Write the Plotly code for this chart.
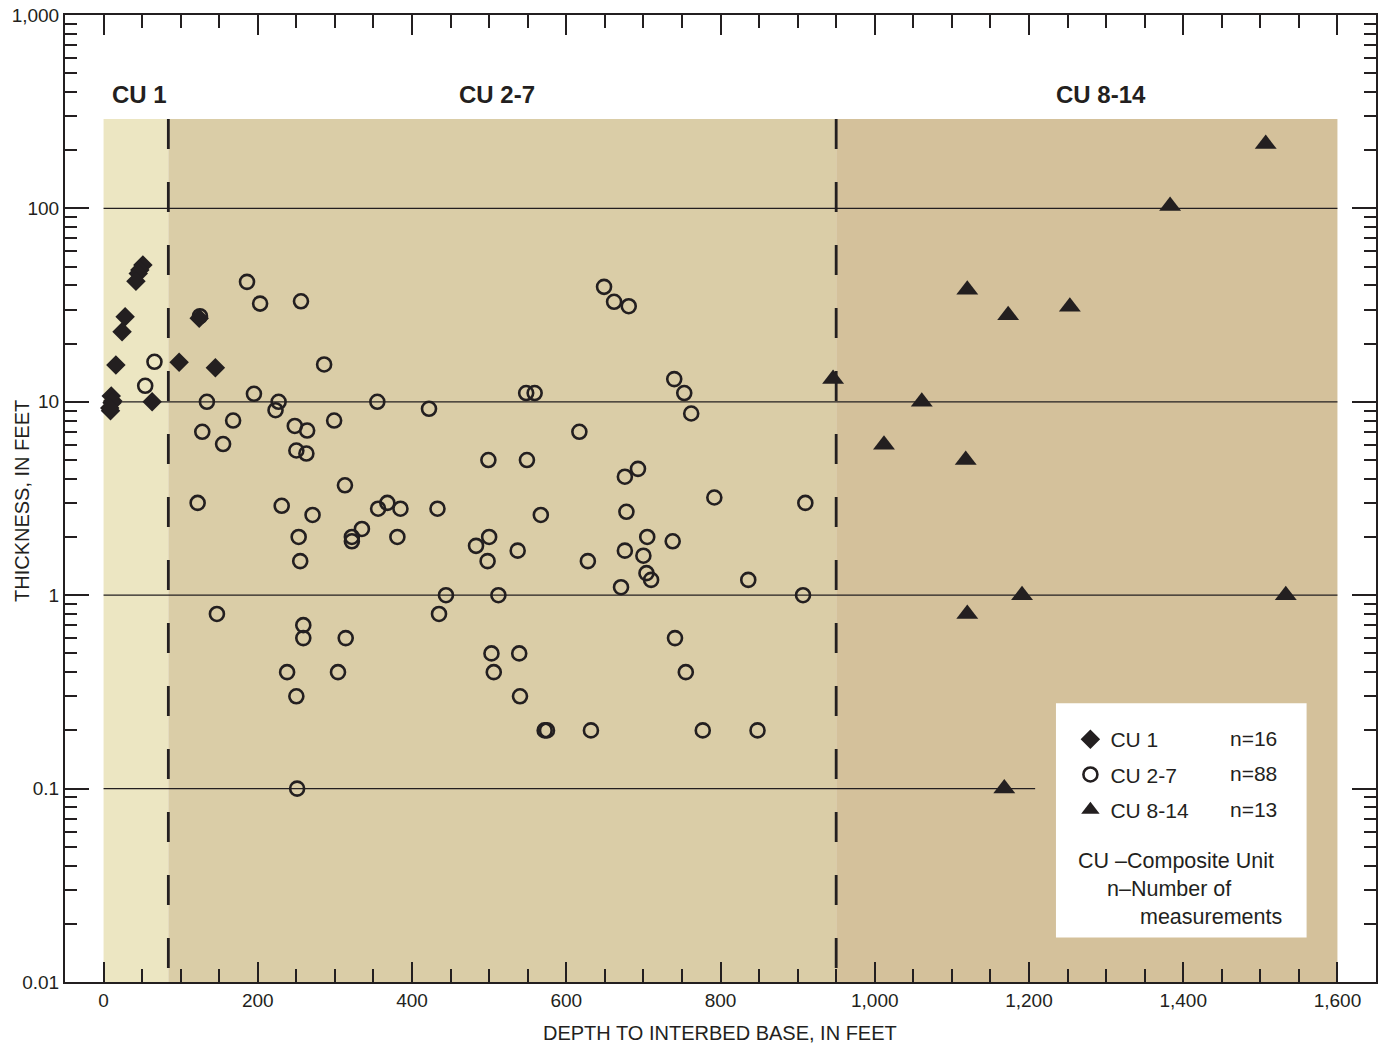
import plotly.graph_objects as go

# ---------------- data ----------------
cu1_depth = [51, 47, 45, 42, 28, 24, 16, 98, 145, 124, 63, 10, 12, 11, 9, 8]
cu1_thick = [51, 48, 46, 42, 27.5, 23, 15.5, 16, 15, 27, 10, 10.7, 10.1, 9.9, 9.0, 9.3]

cu27_depth = [66, 54, 125, 186, 203, 256, 286, 134, 195, 227,
              223, 355, 422, 168, 128, 155, 248, 264, 299, 250,
              263, 499, 313, 122, 231, 271, 253, 322, 322, 335,
              356, 368, 385, 433, 381, 255, 483, 500, 498, 444,
              512, 147, 435, 259, 259, 314, 503, 506, 238, 304,
              250, 251, 740, 753, 762, 548, 559, 617, 549, 676,
              693, 567, 678, 537, 628, 676, 705, 700, 704, 710,
              671, 738, 539, 741, 755, 540, 572, 575, 632, 649,
              662, 681, 792, 910, 836, 907, 777, 848]
cu27_thick = [16.1, 12.1, 27.7, 41.7, 32.2, 33.1, 15.6, 10.0, 11.0, 10.0,
              9.05, 10.0, 9.2, 8.0, 7.0, 6.05, 7.5, 7.1, 8.0, 5.6,
              5.4, 5.0, 3.7, 3.0, 2.9, 2.6, 2.0, 2.0, 1.9, 2.2,
              2.8, 3.0, 2.8, 2.8, 2.0, 1.5, 1.8, 2.0, 1.5, 1.0,
              1.0, 0.8, 0.8, 0.7, 0.6, 0.6, 0.5, 0.4, 0.4, 0.4,
              0.3, 0.1, 13.1, 11.1, 8.7, 11.1, 11.1, 7.0, 5.0, 4.1,
              4.5, 2.6, 2.7, 1.7, 1.5, 1.7, 2.0, 1.6, 1.3, 1.2,
              1.1, 1.9, 0.5, 0.6, 0.4, 0.3, 0.2, 0.2, 0.2, 39.3,
              32.9, 31.2, 3.2, 3.0, 1.2, 1.0, 0.2, 0.2]

cu814_depth = [1507, 1383, 1120, 1173, 1253, 946, 1061, 1012, 1118, 1120, 1191, 1533, 1168]
cu814_thick = [215, 103, 38, 28, 31, 13.1, 10.0, 6.0, 5.0, 0.8, 1.0, 1.0, 0.1]

unit_names = ["CU 1", "CU 2-7", "CU 8-14"]
unit_bounds = [0, 84, 950, 1600]        # depth boundaries of the composite units
shade_top = 290
grid_levels = [100, 10, 1, 0.1]
grid_ends = [1600, 1600, 1600, 1208]

x_tickvals = [0, 200, 400, 600, 800, 1000, 1200, 1400, 1600]
y_tickvals = [0.01, 0.1, 1, 10, 100, 1000]
y_ticktext = ["0.01", "0.1", "1", "10", "100", "1,000"]

# ---------------- styling ----------------
INK = "#231f20"
FONT = "Liberation Sans, Arial, sans-serif"
shade_colors = ["#ece6c2", "#dacda7", "#d4c19b"]

fig = go.Figure()

fig.add_trace(go.Scatter(
    x=cu1_depth, y=cu1_thick, mode="markers", name="CU 1", legendgroup="a",
    marker=dict(symbol="diamond", size=15, color=INK, line=dict(width=0))))
fig.add_trace(go.Scatter(
    x=cu27_depth, y=cu27_thick, mode="markers", name="CU 2-7", legendgroup="b",
    marker=dict(symbol="circle-open", size=14, color=INK, line=dict(width=2.6, color=INK))))
fig.add_trace(go.Scatter(
    x=cu814_depth, y=cu814_thick, mode="markers", name="CU 8-14", legendgroup="c",
    marker=dict(symbol="triangle-up", size=19, color=INK, line=dict(width=0))))

shapes = []
for i in range(3):
    shapes.append(dict(type="rect", xref="x", yref="y", layer="below",
                       x0=unit_bounds[i], x1=unit_bounds[i + 1], y0=0.01, y1=shade_top,
                       fillcolor=shade_colors[i], line=dict(width=0)))
for lvl, end in zip(grid_levels, grid_ends):
    shapes.append(dict(type="line", xref="x", yref="y", layer="below",
                       x0=0, x1=end, y0=lvl, y1=lvl, line=dict(color=INK, width=1.2)))
for b in unit_bounds[1:3]:
    shapes.append(dict(type="line", xref="x", yref="y", layer="below",
                       x0=b, x1=b, y0=shade_top, y1=0.01,
                       line=dict(color=INK, width=2.8, dash="30px,33px")))
# legend box
shapes.append(dict(type="rect", xref="x", yref="y", layer="below",
                   x0=1235, x1=1560, y0=0.017, y1=0.276,
                   fillcolor="white", line=dict(width=0)))

annotations = []
label_x = [46, 510, 1294]
for name, lx in zip(unit_names, label_x):
    annotations.append(dict(x=lx, y=0.9183, xref="x", yref="paper", text=f"<b>{name}</b>", showarrow=False,
                            font=dict(family=FONT, size=24, color=INK),
                            xanchor="center", yanchor="middle"))

counts = [len(cu1_depth), len(cu27_depth), len(cu814_depth)]
row_y = [0.2523, 0.2161, 0.1789]
for c, ry in zip(counts, row_y):
    annotations.append(dict(x=1458, y=ry, xref="x", yref="paper", text=f"n={c}", showarrow=False,
                            font=dict(family=FONT, size=21, color=INK), xanchor="left", yanchor="middle"))
annotations.append(dict(x=1261, y=0.1251, xref="x", yref="paper", text="CU \u2013Composite Unit",
                        showarrow=False, font=dict(family=FONT, size=21.5, color=INK),
                        xanchor="left", yanchor="middle"))
annotations.append(dict(x=1298, y=0.0962, xref="x", yref="paper", text="n\u2013Number of",
                        showarrow=False, font=dict(family=FONT, size=21.5, color=INK),
                        xanchor="left", yanchor="middle"))
annotations.append(dict(x=1531, y=0.0672, xref="x", yref="paper", text="measurements",
                        showarrow=False, font=dict(family=FONT, size=21.5, color=INK),
                        xanchor="right", yanchor="middle"))
# axis titles
annotations.append(dict(x=(720 - 65) / 1311, y=-0.0527, xref="paper", yref="paper",
                        text="DEPTH TO INTERBED BASE, IN FEET", showarrow=False,
                        font=dict(family=FONT, size=20, color=INK), xanchor="center", yanchor="middle"))
annotations.append(dict(x=(22 - 65) / 1311, y=0.4974, xref="paper", yref="paper",
                        text="THICKNESS, IN FEET", showarrow=False, textangle=-90,
                        font=dict(family=FONT, size=20, color=INK), xanchor="center", yanchor="middle"))

minor_y = [m * 10 ** e for e in range(-2, 3) for m in range(2, 10)]

fig.update_layout(
    width=1386, height=1046,
    margin=dict(l=65, r=10, t=15, b=64, autoexpand=False),
    paper_bgcolor="white", plot_bgcolor="white",
    font=dict(family=FONT, color=INK),
    showlegend=True,
    legend=dict(x=0.7669, y=0.272, xanchor="left", yanchor="top",
                bgcolor="rgba(0,0,0,0)", borderwidth=0,
                font=dict(family=FONT, size=21, color=INK),
                traceorder="grouped", tracegroupgap=5),
    shapes=shapes, annotations=annotations,
    xaxis=dict(range=[-50, 1650], tickmode="array", tickvals=x_tickvals, tickformat=",d",
               ticks="inside", ticklen=20, tickwidth=1.5, tickcolor=INK,
               showline=True, linewidth=2, linecolor=INK, mirror="ticks",
               showgrid=False, zeroline=False, automargin=False, ticklabeloverflow="allow",
               tickfont=dict(family=FONT, size=19, color=INK),
               minor=dict(tickmode="linear", tick0=0, dtick=50, ticks="inside", ticklen=13,
                          tickwidth=1.5, tickcolor=INK, showgrid=False)),
    yaxis=dict(type="log", range=[-2, 3], tickmode="array", tickvals=y_tickvals, ticktext=y_ticktext,
               ticks="inside", ticklen=24, tickwidth=1.5, tickcolor=INK,
               showline=True, linewidth=2, linecolor=INK, mirror="ticks",
               showgrid=False, zeroline=False, automargin=False, ticklabeloverflow="allow",
               tickfont=dict(family=FONT, size=19, color=INK),
               minor=dict(tickmode="array", tickvals=minor_y, ticks="inside", ticklen=12,
                          tickwidth=1.5, tickcolor=INK, showgrid=False)),
)

fig.write_html("out.html")
